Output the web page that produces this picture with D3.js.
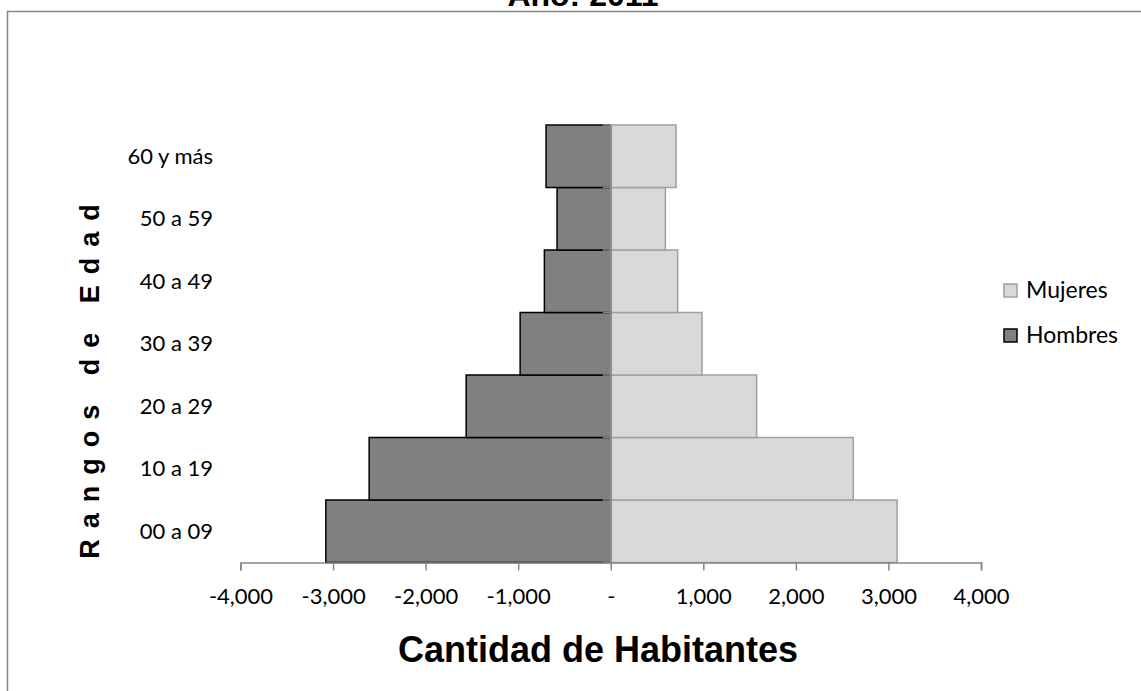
<!DOCTYPE html>
<html lang="es">
<head>
<meta charset="UTF-8">
<title>Pirámide de población</title>
<script src="https://d3js.org/d3.v7.min.js"></script>
<style>
    body { margin: 0; background: #fff; }
    svg { display: block; }
    .tick text { font-family: Lato, 'Open Sans', sans-serif; font-size: 22px; fill: #000; }
    .axis-title { font-family: 'Liberation Sans', Arial, sans-serif; font-weight: bold; fill: #000; }
</style>
</head>
<body>
<svg id="chart" width="1141" height="691"></svg>
<script>
    // rangos de edad, de abajo hacia arriba
    const categories = ["00 a 09", "10 a 19", "20 a 29", "30 a 39", "40 a 49", "50 a 59", "60 y más"];
    const hombres = [-3078, -2610, -1562, -979, -717, -580, -699];
    const mujeres = [3094, 2620, 1576, 986, 723, 590, 705];
    const xTicks = [-4000, -3000, -2000, -1000, 0, 1000, 2000, 3000, 4000];

    const svg = d3.select("#chart");
    const margin = { left: 240.5, right: 981, top: 125, bottom: 562.5 };

    // marco del grafico
    svg.append("path")
        .attr("d", "M7.5,700 V11.5 H1150")
        .attr("fill", "none")
        .attr("stroke", "#868686")
        .attr("stroke-width", 1.5);

    svg.append("text")
        .attr("class", "axis-title")
        .attr("x", 583).attr("y", 6)
        .attr("text-anchor", "middle")
        .style("font-size", "32px")
        .text("Año: 2011");

    const x = d3.scaleLinear().domain([-4000, 4000]).range([margin.left, margin.right]);
    const y = d3.scaleBand().domain(categories.slice().reverse())
        .range([margin.top, margin.bottom]).padding(0);

    // Hombres
    svg.append("g").selectAll("rect")
        .data(categories.map((c, i) => ({ c, v: hombres[i] })))
        .join("rect")
        .attr("x", d => x(d.v))
        .attr("y", d => y(d.c))
        .attr("width", d => x(0) - x(d.v))
        .attr("height", y.bandwidth())
        .attr("fill", "#808080")
        .attr("stroke", "#000")
        .attr("stroke-width", 1.5);

    // Mujeres
    svg.append("g").selectAll("rect")
        .data(categories.map((c, i) => ({ c, v: mujeres[i] })))
        .join("rect")
        .attr("x", x(0))
        .attr("y", d => y(d.c))
        .attr("width", d => x(d.v) - x(0))
        .attr("height", y.bandwidth())
        .attr("fill", "#d9d9d9")
        .attr("stroke", "#a0a0a0")
        .attr("stroke-width", 1.5);

    // eje x
    const xAxis = svg.append("g")
        .attr("transform", `translate(0,${margin.bottom})`)
        .call(d3.axisBottom(x).tickValues(xTicks).tickSize(8).tickPadding(18)
            .tickFormat(d => d === 0 ? "-" : d3.format(",")(d).replace("\u2212", "-")));
    xAxis.select(".domain").attr("stroke", "#868686").attr("stroke-width", 1.5);
    xAxis.selectAll(".tick line").attr("stroke", "#868686").attr("stroke-width", 1.5);

    // eje y en el cero
    const yAxis = svg.append("g")
        .attr("transform", `translate(${x(0)},0)`)
        .call(d3.axisLeft(y).tickSize(0).tickFormat(""));
    yAxis.select(".domain").attr("stroke", "#868686").attr("stroke-width", 1.5);
    const bounds = categories.map(c => y(c)).concat([margin.bottom]);
    yAxis.selectAll("line.cat").data(bounds).join("line")
        .attr("class", "cat")
        .attr("x1", -8).attr("x2", 0)
        .attr("y1", d => d).attr("y2", d => d)
        .attr("stroke", "#868686").attr("stroke-width", 1.5);

    // etiquetas de categoria
    svg.append("g").selectAll("text")
        .data(categories)
        .join("text")
        .attr("x", 213)
        .attr("y", d => y(d) + y.bandwidth() / 2)
        .attr("dy", "0.35em")
        .attr("text-anchor", "end")
        .style("font-family", "Lato, 'Open Sans', sans-serif")
        .style("font-size", "22px")
        .text(d => d);

    // titulos de ejes
    svg.append("text")
        .attr("class", "axis-title")
        .attr("x", 598).attr("y", 662)
        .attr("text-anchor", "middle")
        .style("font-size", "36px")
        .text("Cantidad de Habitantes");

    svg.append("text")
        .attr("class", "axis-title")
        .attr("transform", "translate(99,376) rotate(-90)")
        .attr("text-anchor", "middle")
        .style("font-size", "27px")
        .style("letter-spacing", "11px")
        .text("Rangos de Edad");

    // leyenda
    const legend = [
        { name: "Mujeres", fill: "#d9d9d9", stroke: "#a0a0a0", y: 290 },
        { name: "Hombres", fill: "#808080", stroke: "#000", y: 335 }
    ];
    const lg = svg.append("g").selectAll("g").data(legend).join("g")
        .attr("transform", d => `translate(1004,${d.y})`);
    lg.append("rect")
        .attr("x", 0).attr("y", -6).attr("width", 13).attr("height", 13)
        .attr("fill", d => d.fill).attr("stroke", d => d.stroke).attr("stroke-width", 1.5);
    lg.append("text")
        .attr("x", 22).attr("dy", "0.35em")
        .style("font-family", "Lato, 'Open Sans', sans-serif")
        .style("font-size", "23px")
        .text(d => d.name);
</script>
</body>
</html>
